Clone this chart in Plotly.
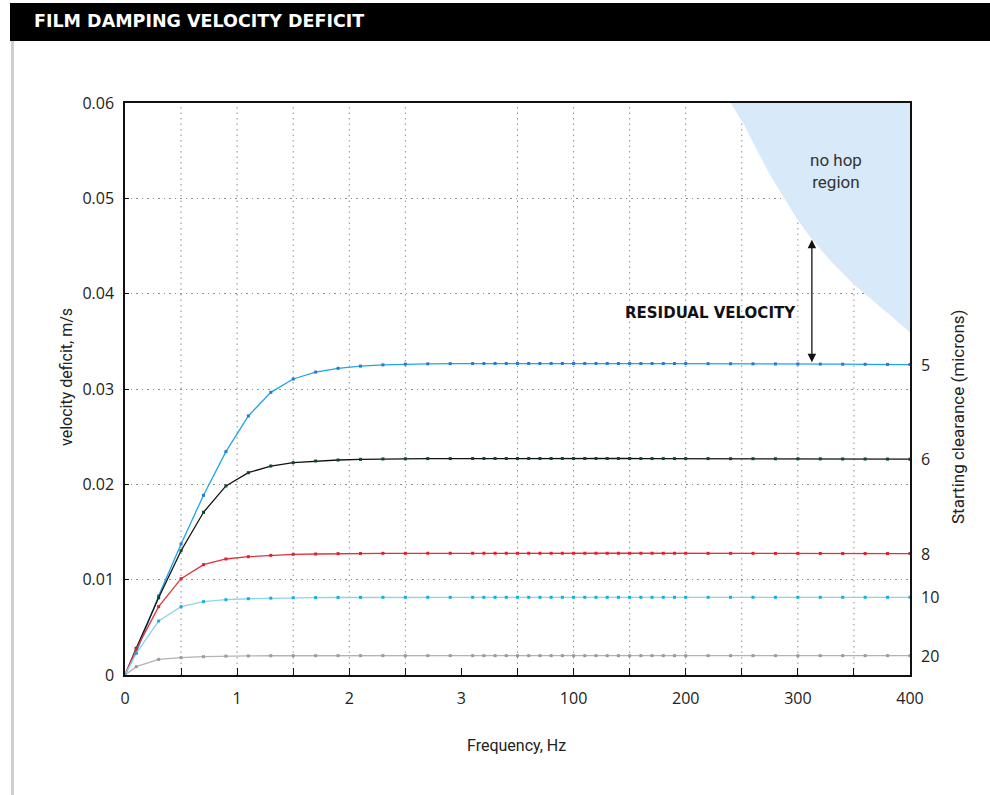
import plotly.graph_objects as go

# ---------------- data ----------------
# x positions on the (piecewise) frequency axis, axis units 0..7
x_pos = [0, 0.1, 0.3, 0.5, 0.7, 0.9, 1.1, 1.3, 1.5, 1.7, 1.9, 2.1, 2.3, 2.5, 2.7, 2.9, 3.1,
         3.2, 3.3, 3.4, 3.5, 3.6, 3.7, 3.8, 3.9, 4.0, 4.1, 4.2, 4.3, 4.4, 4.5, 4.6, 4.7, 4.8, 4.9, 5.0,
         5.2, 5.4, 5.6, 5.8, 6.0, 6.2, 6.4, 6.6, 6.8, 7.0]

x_tick_vals = [0, 1, 2, 3, 4, 5, 6, 7]
x_tick_text = ["0", "1", "2", "3", "100", "200", "300", "400"]
y_tick_vals = [0, 0.01, 0.02, 0.03, 0.04, 0.05, 0.06]
y_tick_text = ["0", "0.01", "0.02", "0.03", "0.04", "0.05", "0.06"]
x_grid = [0.5, 1, 1.5, 2, 2.5, 3.5, 4, 4.5, 5, 5.5, 6, 6.5]

clear_5 = [0, 0.00234, 0.0083, 0.01374, 0.01885, 0.02343, 0.02717, 0.02965, 0.03105, 0.03178, 0.03217,
           0.0324, 0.03253, 0.03261, 0.03264, 0.03266, 0.03267,
           0.03267, 0.03268, 0.03268, 0.03268, 0.03268, 0.03268, 0.03268, 0.03268, 0.03268, 0.03268,
           0.03268, 0.03268, 0.03267, 0.03267, 0.03267, 0.03267, 0.03267, 0.03267, 0.03267,
           0.03266, 0.03265, 0.03264, 0.03263, 0.03262, 0.03261, 0.0326, 0.03259, 0.03258, 0.03256]
clear_6 = [0, 0.0028, 0.0081, 0.01304, 0.01707, 0.01983, 0.02122, 0.02192, 0.02227, 0.02245, 0.02255,
           0.02262, 0.02266, 0.02268, 0.0227, 0.0227, 0.02271,
           0.02271, 0.02271, 0.02271, 0.02271, 0.02271, 0.02271, 0.02271, 0.02271, 0.02271, 0.02271,
           0.02271, 0.02271, 0.02271, 0.02271, 0.0227, 0.0227, 0.0227, 0.0227, 0.0227,
           0.0227, 0.02269, 0.02269, 0.02268, 0.02268, 0.02267, 0.02266, 0.02266, 0.02265, 0.02264]
clear_8 = [0, 0.0027, 0.00717, 0.0101, 0.01157, 0.01217, 0.01241, 0.01255, 0.01266, 0.01269, 0.01273,
           0.01275, 0.01276, 0.01276, 0.01277, 0.01277, 0.01277,
           0.01277, 0.01277, 0.01277, 0.01277, 0.01277, 0.01277, 0.01277, 0.01277, 0.01277, 0.01277,
           0.01277, 0.01277, 0.01277, 0.01277, 0.01277, 0.01277, 0.01277, 0.01277, 0.01277,
           0.01276, 0.01276, 0.01276, 0.01275, 0.01275, 0.01275, 0.01274, 0.01274, 0.01274, 0.01274]
clear_10 = [0, 0.00227, 0.00566, 0.00717, 0.00769, 0.0079, 0.008, 0.00806, 0.0081, 0.00812, 0.00813,
            0.00814, 0.00815, 0.00815, 0.00815, 0.00815, 0.00815,
            0.00815, 0.00815, 0.00815, 0.00815, 0.00815, 0.00815, 0.00815, 0.00815, 0.00815, 0.00815,
            0.00815, 0.00815, 0.00815, 0.00815, 0.00815, 0.00815, 0.00815, 0.00815, 0.00815,
            0.00815, 0.00815, 0.00815, 0.00815, 0.00815, 0.00815, 0.00815, 0.00815, 0.00815, 0.00815]
clear_20 = [0, 0.00087, 0.00164, 0.00182, 0.00192, 0.00198, 0.002, 0.00202, 0.00203, 0.00203, 0.00203,
            0.00203, 0.00203, 0.00203, 0.00203, 0.00203, 0.00203,
            0.00203, 0.00203, 0.00203, 0.00203, 0.00203, 0.00203, 0.00203, 0.00203, 0.00203, 0.00203,
            0.00203, 0.00203, 0.00203, 0.00203, 0.00203, 0.00203, 0.00203, 0.00203, 0.00203,
            0.00203, 0.00203, 0.00203, 0.00203, 0.00203, 0.00203, 0.00203, 0.00203, 0.00203, 0.00203]

series_labels = ["5", "6", "8", "10", "20"]
series_values = [clear_5, clear_6, clear_8, clear_10, clear_20]
line_colors = ["#1ea5ea", "#111111", "#e5303c", "#8fd3e8", "#b3b3b3"]
marker_colors = ["#2a78d0", "#0c4a1f", "#e0202e", "#10b2da", "#9a9a9a"]

# no-hop region boundary (axis units, m/s)
nohop_x = [5.40, 5.521, 5.640, 5.759, 5.878, 5.997, 6.116, 6.295, 6.503, 6.712, 6.860, 7.0]
nohop_y = [0.0600, 0.05773, 0.05493, 0.05231, 0.05004, 0.04776, 0.04584, 0.04339, 0.04094,
           0.03884, 0.03745, 0.03595]

arrow_x = 6.125
arrow_top = 0.0458
arrow_bottom = 0.0328

# ---------------- layout geometry ----------------
W, H = 990, 795
L, R, T, B = 125, 910, 103, 675


def px(xp):
    return (xp - L) / (R - L)


def py(yp):
    return (B - yp) / (B - T)


FONT = "'Open Sans', sans-serif"
NARROW = "Roboto, sans-serif"
GRID = "#8f8f8f"
GRID_DASH = "1.5px,4px"

fig = go.Figure()

# no-hop region fill
fig.add_trace(go.Scatter(
    x=nohop_x + [7.0, nohop_x[0]], y=nohop_y + [0.06, 0.06],
    fill="toself", fillcolor="#d8eaf9", mode="lines",
    line=dict(width=0), hoverinfo="skip", showlegend=False))

for lab, vals, lc, mc in zip(series_labels, series_values, line_colors, marker_colors):
    fig.add_trace(go.Scatter(
        x=x_pos, y=vals, mode="lines+markers", name=lab + " microns",
        line=dict(color=lc, width=1.3),
        marker=dict(color=mc, size=3, symbol="square"),
        showlegend=False))

shapes = []
# vertical dotted grid
for gx in x_grid:
    shapes.append(dict(type="line", xref="x", yref="y", x0=gx, x1=gx, y0=0, y1=0.06,
                       line=dict(color=GRID, width=1, dash=GRID_DASH), layer="below"))
# title bar
shapes.append(dict(type="rect", xref="paper", yref="paper", x0=px(10), x1=px(992), y0=py(41), y1=py(3),
                   fillcolor="#000000", line=dict(width=0)))
# left grey rule
shapes.append(dict(type="line", xref="paper", yref="paper", x0=px(12.5), x1=px(12.5), y0=py(41), y1=py(795),
                   line=dict(color="#cfcfcf", width=3)))

annotations = [
    dict(text="FILM DAMPING VELOCITY DEFICIT", xref="paper", yref="paper", x=px(32), y=py(21),
         xanchor="left", yanchor="middle", showarrow=False,
         font=dict(family="'DejaVu Sans', sans-serif", size=17.5, color="white", weight="bold")),
    dict(text="velocity deficit, m/s", xref="paper", yref="paper", x=px(66), y=py(377),
         xanchor="center", yanchor="middle", textangle=-90, showarrow=False,
         font=dict(family=NARROW, size=16, color="#222")),
    dict(text="Frequency, Hz", xref="paper", yref="paper", x=px(516), y=py(745),
         xanchor="center", yanchor="middle", showarrow=False,
         font=dict(family=NARROW, size=16, color="#222")),
    dict(text="Starting clearance (microns)", xref="paper", yref="paper", x=px(958), y=py(417),
         xanchor="center", yanchor="middle", textangle=-90, showarrow=False,
         font=dict(family=NARROW, size=17, color="#222")),
    dict(text="no hop<br>region", xref="x", yref="y", x=6.34, y=0.0529,
         xanchor="center", yanchor="middle", showarrow=False,
         font=dict(family=NARROW, size=17, color="#333")),
    dict(text="RESIDUAL VELOCITY", xref="paper", yref="paper", x=px(798), y=py(313),
         xanchor="right", yanchor="middle", showarrow=False,
         font=dict(family="'DejaVu Sans', sans-serif", size=15, color="#111", weight="bold")),
    dict(text="", xref="x", yref="y", axref="x", ayref="y", x=arrow_x, y=arrow_bottom,
         ax=arrow_x, ay=arrow_top, showarrow=True, arrowhead=2, startarrowhead=2,
         arrowside="end+start", arrowsize=1.3, arrowwidth=1.3, arrowcolor="#111",
         standoff=0, startstandoff=0),
]
for lab, vals in zip(series_labels, series_values):
    annotations.append(dict(text=lab, xref="x", yref="y", x=7.0, y=vals[-1], xanchor="left",
                            yanchor="middle", xshift=9, showarrow=False,
                            font=dict(family=FONT, size=16, color="#222")))

fig.update_layout(
    width=W, height=H, margin=dict(l=L, r=W - R, t=T, b=H - B),
    paper_bgcolor="white", plot_bgcolor="white",
    shapes=shapes, annotations=annotations,
    xaxis=dict(range=[0, 7], tickvals=x_tick_vals, ticktext=x_tick_text,
               showgrid=False, zeroline=False, showline=True, linecolor="#111", linewidth=1.5,
               mirror=True, ticks="inside", ticklen=7, tickcolor="#111", tickwidth=1.3,
               minor=dict(tickvals=[0.5, 1.5, 2.5, 3.5, 4.5, 5.5, 6.5], ticks="inside",
                          ticklen=7, tickcolor="#111", tickwidth=1.3, showgrid=False),
               tickfont=dict(family=FONT, size=16, color="#222"), ticklabelstandoff=8),
    yaxis=dict(range=[0, 0.06], tickvals=y_tick_vals, ticktext=y_tick_text,
               showgrid=True, gridcolor=GRID, griddash=GRID_DASH, gridwidth=1,
               zeroline=False, showline=True, linecolor="#111", linewidth=1.5, mirror=True,
               ticks="inside", ticklen=4, tickcolor="#111",
               tickfont=dict(family=FONT, size=16, color="#222"), ticklabelstandoff=6),
)

fig.write_html("out.html")
